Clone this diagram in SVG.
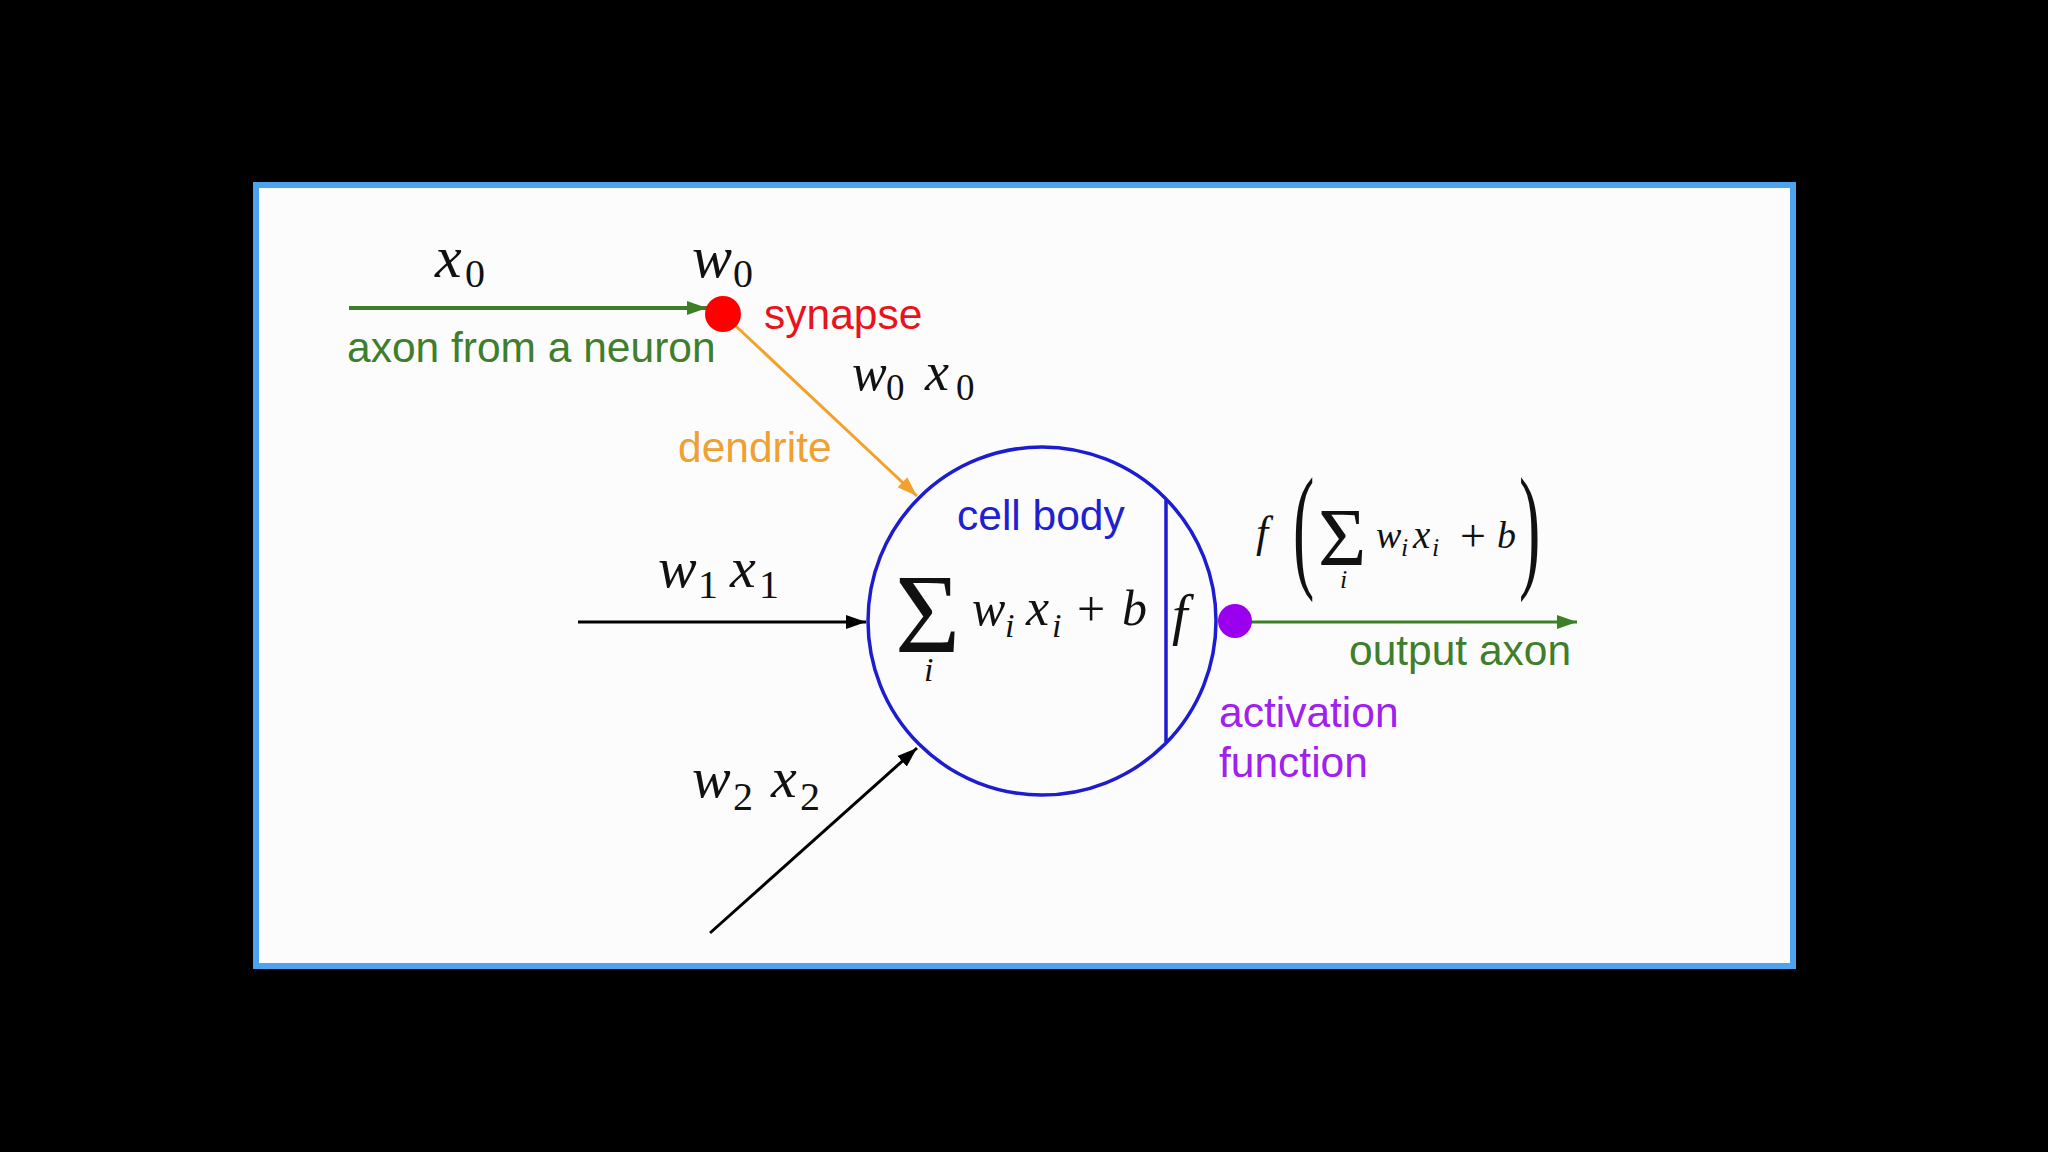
<svg xmlns="http://www.w3.org/2000/svg" width="2048" height="1152" viewBox="0 0 2048 1152">
  <style>
    .lbl { font-family: "Liberation Sans", Arial, sans-serif; font-size: 42.5px; }
    .math { font-family: "Liberation Serif", "Times New Roman", serif; fill: #111; }
    .it { font-style: italic; }
    .up { font-style: normal; }
    .conn { fill: none; }
  </style>
  <defs>
    <marker id="arrGreen" viewBox="0 0 20 14" refX="20" refY="7" markerWidth="20" markerHeight="14" markerUnits="userSpaceOnUse" orient="auto">
      <path d="M0,0 L20,7 L0,14 z" fill="#3c7f27"/>
    </marker>
    <marker id="arrOrange" viewBox="0 0 20 14" refX="20" refY="7" markerWidth="20" markerHeight="14" markerUnits="userSpaceOnUse" orient="auto">
      <path d="M0,0 L20,7 L0,14 z" fill="#f2a12a"/>
    </marker>
    <marker id="arrBlack" viewBox="0 0 20 14" refX="20" refY="7" markerWidth="20" markerHeight="14" markerUnits="userSpaceOnUse" orient="auto">
      <path d="M0,0 L20,7 L0,14 z" fill="#000"/>
    </marker>
  </defs>

  <rect x="0" y="0" width="2048" height="1152" fill="#000"/>
  <rect x="256" y="185" width="1537" height="781" fill="#fdfcfd" stroke="#4ea3ef" stroke-width="6"/>

  <g id="connectors">
    <path class="conn" d="M349,308 L707,308" stroke="#3c7f27" stroke-width="4" marker-end="url(#arrGreen)"/>
    <path class="conn" d="M723,314 L917,496" stroke="#f2a12a" stroke-width="3" marker-end="url(#arrOrange)"/>
    <path class="conn" d="M578,622 L866,622" stroke="#000" stroke-width="3" marker-end="url(#arrBlack)"/>
    <path class="conn" d="M710,933 L917,748" stroke="#000" stroke-width="3" marker-end="url(#arrBlack)"/>
    <path class="conn" d="M1235,622 L1577,622" stroke="#3c7f27" stroke-width="3" marker-end="url(#arrGreen)"/>
  </g>

  <g id="input-x0">
    <text class="math"><tspan class="it" x="435" y="277" font-size="60">x</tspan><tspan class="up" x="465" y="287" font-size="40">0</tspan></text>
    <text class="lbl" x="347" y="362" fill="#3e7e2c">axon from a neuron</text>
  </g>

  <g id="synapse">
    <circle cx="723" cy="314" r="18" fill="#ff0000"/>
    <text class="math"><tspan class="it" x="692" y="277" font-size="60">w</tspan><tspan class="up" x="733" y="287" font-size="40">0</tspan></text>
    <text class="lbl" x="764" y="329" fill="#e8131b">synapse</text>
  </g>

  <g id="dendrite">
    <text class="math"><tspan class="it" x="852" y="390" font-size="52">w</tspan><tspan class="up" x="886" y="400" font-size="37">0</tspan><tspan class="it" x="925" y="390" font-size="54">x</tspan><tspan class="up" x="956" y="400" font-size="37">0</tspan></text>
    <text class="lbl" x="678" y="462" fill="#f0a030">dendrite</text>
  </g>

  <g id="input-w1x1">
    <text class="math"><tspan class="it" x="658" y="587" font-size="58">w</tspan><tspan class="up" x="698" y="598" font-size="40">1</tspan><tspan class="it" x="730" y="587" font-size="58">x</tspan><tspan class="up" x="759" y="598" font-size="40">1</tspan></text>
  </g>

  <g id="input-w2x2">
    <text class="math"><tspan class="it" x="692" y="797" font-size="58">w</tspan><tspan class="up" x="733" y="810" font-size="40">2</tspan><tspan class="it" x="771" y="797" font-size="58">x</tspan><tspan class="up" x="800" y="810" font-size="40">2</tspan></text>
  </g>

  <g id="cell-body">
    <circle cx="1042" cy="621" r="174" fill="none" stroke="#1d1dcf" stroke-width="3.5"/>
    <line x1="1166" y1="500" x2="1166" y2="742" stroke="#1d1dcf" stroke-width="3.5"/>
    <text class="lbl" x="957" y="530" fill="#2020d0">cell body</text>
    <text class="math"><tspan class="up" x="895" y="652" font-size="112">Σ</tspan><tspan class="it" x="924" y="681" font-size="34">i</tspan><tspan class="it" x="972" y="625" font-size="50">w</tspan><tspan class="it" x="1005" y="637" font-size="34">i</tspan><tspan class="it" x="1026" y="625" font-size="52">x</tspan><tspan class="it" x="1052" y="637" font-size="34">i</tspan><tspan class="up" x="1077" y="626" font-size="50">+</tspan><tspan class="it" x="1122" y="625" font-size="50">b</tspan></text>
    <text class="math it" x="1172" y="634" font-size="56">f</text>
  </g>

  <g id="activation">
    <circle cx="1235" cy="621" r="17" fill="#9b00ee"/>
    <text class="lbl" x="1219" y="727" fill="#a020ee">activation</text>
    <text class="lbl" x="1219" y="777" fill="#a020ee">function</text>
  </g>

  <g id="output">
    <text class="math it" x="1256" y="547" font-size="44">f</text>
    <text class="math up" transform="translate(1293,573) scale(1,2.15)" font-size="64">(</text>
    <text class="math"><tspan class="up" x="1318" y="565" font-size="83">Σ</tspan><tspan class="it" x="1340" y="588" font-size="26">i</tspan><tspan class="it" x="1376" y="548" font-size="38">w</tspan><tspan class="it" x="1401" y="556" font-size="26">i</tspan><tspan class="it" x="1413" y="548" font-size="39">x</tspan><tspan class="it" x="1432" y="556" font-size="26">i</tspan><tspan class="up" x="1460" y="551" font-size="46">+</tspan><tspan class="it" x="1497" y="548" font-size="38">b</tspan></text>
    <text class="math up" transform="translate(1519,573) scale(1,2.15)" font-size="64">)</text>
    <text class="lbl" x="1349" y="665" fill="#3e7e2c">output axon</text>
  </g>
</svg>
